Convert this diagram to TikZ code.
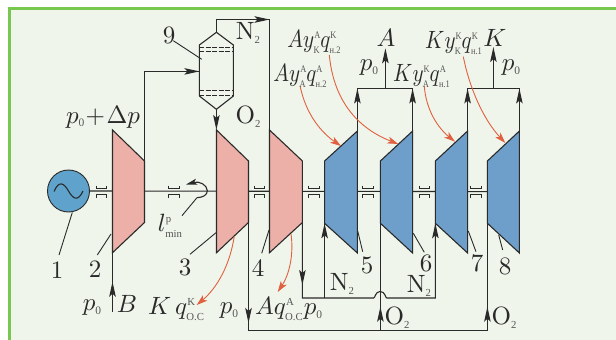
\documentclass[tikz,border=0pt]{standalone}
\usepackage{fontspec}
\usetikzlibrary{arrows.meta}
\newfontfamily\rusfont{Liberation Serif}
\definecolor{bgc}{HTML}{EFF5EA}
\definecolor{framec}{HTML}{78C850}
\definecolor{pinkc}{HTML}{EDB0A9}
\definecolor{bluec}{HTML}{6E9FCB}
\definecolor{genc}{HTML}{5FA3CC}
\definecolor{redc}{HTML}{E0603F}
\definecolor{inkc}{HTML}{2A2A2A}
\definecolor{subc}{HTML}{555555}
\scriptspace=0pt
\newcommand{\tn}[1]{\mbox{\fontsize{4}{5}\selectfont\rusfont\color{subc}#1}}
\newcommand{\tb}[1]{\mbox{\fontsize{4.3}{5}\selectfont\rusfont\color{subc}#1}}
\newcommand{\pz}{p_{\mbox{\fontsize{4.6}{5}\selectfont\rusfont\color{subc}0}}}
\tikzset{
  pipe/.style={draw=inkc,line width=1.1pt},
  leader/.style={draw=inkc,line width=0.9pt},
  tipped/.style={pipe,-{Stealth[length=15pt,width=6.5pt,inset=3pt]}},
  redarrow/.style={draw=redc,line width=0.9pt,-{Stealth[length=11pt,width=7pt,inset=3pt,color=redc]}},
  lab/.style={inner sep=0pt,outer sep=0pt,scale=2.5,text=inkc},
  labn/.style={inner sep=0pt,outer sep=0pt,xscale=2.1,yscale=2.5,text=inkc},
  machine/.style={line width=1.1pt,draw=inkc}
}
% name, left x, right x, fill, y: left top, right top, right bottom, left bottom
\newcommand{\mach}[8]{%
  \coordinate (#1-lt) at (#2,#5);
  \coordinate (#1-rt) at (#3,#6);
  \coordinate (#1-rb) at (#3,#7);
  \coordinate (#1-lb) at (#2,#8);
  \fill[#4] (#1-lt)--(#1-rt)--(#1-rb)--(#1-lb)--cycle;
  \draw[machine] (#1-lt)--(#1-rt)--(#1-rb)--(#1-lb)--cycle;
}
\newcommand{\bearing}[1]{%
  \draw[draw=inkc,line width=0.7pt] (#1-5.3,185.5) -- (#1-5.3,188.8) -- (#1+5.3,188.8) -- (#1+5.3,185.5);
  \draw[draw=inkc,line width=0.7pt] (#1-5.3,198) -- (#1-5.3,194.8) -- (#1+5.3,194.8) -- (#1+5.3,198);
}
\begin{document}
\begin{tikzpicture}[x=1pt,y=-1pt]
\useasboundingbox (0,0) rectangle (616,340);
\fill[white] (0,0) rectangle (616,340);
\fill[bgc] (10,8) rectangle (616,340);
\fill[framec] (8,7) rectangle (616,9.5);
\fill[framec] (8,7) rectangle (11,340);

% shaft behind machines
\node[circle,minimum size=42pt,inner sep=0pt,outer sep=0pt,fill=genc,draw=inkc,line width=0.9pt] (gen) at (68.5,191) {};
\coordinate (shaftend) at (487,191.6);
\draw[pipe] (gen.east) -- (shaftend);

% machines
\mach{m2}{112.5}{144.5}{pinkc}{130}{161}{222.5}{252.7}
\mach{m3}{216.5}{248.5}{pinkc}{130}{161}{222.5}{252.7}
\mach{m4}{269.5}{302.4}{pinkc}{130}{161}{222.5}{252.7}
\mach{m5}{324.6}{357.4}{bluec}{161}{131}{253}{223.3}
\mach{m6}{380.4}{412.6}{bluec}{161}{131}{253}{223.3}
\mach{m7}{435.4}{467.6}{bluec}{161}{131}{253}{223.3}
\mach{m8}{487.4}{519.4}{bluec}{161}{131}{253}{223.3}

% bearings
\foreach \bx in {101.5,173.7,259.5,313.8,368,424.5,476}{\bearing{\bx}}

% generator wave
\draw[pipe] (54,191.5) .. controls (59,180) and (64,183) .. (68.5,191) .. controls (73,199) and (78,202) .. (83,191);

% column 9
\coordinate (c-top) at (216.4,32.3);
\coordinate (c-bot) at (216.4,109.3);
\coordinate (c-l1) at (199.4,45);
\coordinate (c-r1) at (233.4,45);
\coordinate (c-l2) at (199.4,96);
\coordinate (c-r2) at (233.4,96);
\coordinate (c-in) at (199.4,71.4);
\draw[pipe] (c-top) -- (c-r1) -- (c-r2) -- (c-bot) -- (c-l2) -- (c-l1) -- cycle;
\foreach \dy in {47,51.5,90.7,95}{
  \draw[draw=inkc,line width=1pt,dash pattern=on 5pt off 1.5pt] (199,\dy) -- (233.3,\dy);
}

% air to column
\coordinate (c2a) at (144.5,71.4);
\draw[pipe] (m2-rt) -- (c2a) -- (c-in);
\draw[tipped] (183,71.4) -- (c-in);
% column to turbine 3
\draw[tipped] (c-bot) -- (216.4,130);
% N2 top to turbine 4
\coordinate (n-a) at (216.4,19.5);
\coordinate (n-b) at (269.5,19.5);
\draw[pipe] (c-top) -- (n-a) -- (n-b) -- (m4-lt);
\draw[tipped] (253,19.5) -- (n-b);
% inlet B
\coordinate (b-in) at (112.5,311.5);
\coordinate (b-tip) at (112.5,281.7);
\draw[pipe] (b-in) -- (m2-lb);
\draw[tipped] (112.5,298) -- (b-tip);

% exhaust 3 to O2 bus
\coordinate (o-l) at (248.5,330.5);
\coordinate (o-m) at (380.4,330.5);
\coordinate (o-r) at (487.4,330.5);
\draw[pipe] (m3-rb) -- (o-l) -- (o-r) -- (m8-lb);
\draw[pipe] (o-m) -- (m6-lb);
\draw[tipped] (248.5,307) -- (248.5,323);
\draw[tipped] (380.4,323) -- (380.4,306.7);
\draw[tipped] (487.4,323) -- (487.4,306.7);

% exhaust 4 to N2 bus
\coordinate (n-l) at (302.4,298);
\coordinate (n-5) at (324.6,298);
\coordinate (h-a) at (373.5,298);
\coordinate (h-b) at (387,298);
\coordinate (n-7) at (435.4,298);
\draw[pipe] (m4-rb) -- (n-l) -- (h-a) .. controls (375.5,298) and (375,291.5) .. (380.2,291.5) .. controls (385.4,291.5) and (385,298) .. (h-b) -- (n-7) -- (m7-lb);
\draw[pipe] (n-5) -- (m5-lb);
\draw[tipped] (302.4,269) -- (302.4,285);
\draw[tipped] (324.6,239) -- (m5-lb);
\draw[tipped] (435.4,239) -- (m7-lb);

% outlets
\coordinate (a-l) at (357.4,88.5);
\coordinate (a-r) at (412.6,88.5);
\coordinate (a-m) at (385.4,88.5);
\coordinate (a-top) at (385.4,48.3);
\draw[pipe] (m5-rt) -- (a-l) -- (a-r) -- (m6-rt);
\draw[tipped] (357.4,104.5) -- (a-l);
\draw[tipped] (412.6,104.5) -- (a-r);
\draw[tipped] (a-m) -- (a-top);
\coordinate (k-l) at (467.6,88.5);
\coordinate (k-r) at (519.4,88.5);
\coordinate (k-m) at (493.4,88.5);
\coordinate (k-top) at (493.4,47);
\draw[pipe] (m7-rt) -- (k-l) -- (k-r) -- (m8-rt);
\draw[tipped] (467.6,104.5) -- (k-l);
\draw[tipped] (519.4,104.5) -- (k-r);
\draw[tipped] (k-m) -- (k-top);

% recirculation symbol
\draw[pipe,-{Stealth[length=11pt,width=6pt,inset=2.5pt]}] (196.7,197.7) .. controls (203,197.5) and (207.5,195) .. (207.3,190.5) .. controls (207,184.5) and (199,181) .. (186,184.5);

% leaders
\draw[leader] (72.3,212.5) -- (59,255);
\draw[leader] (111,234) -- (97.3,255);
\draw[leader] (216,232.7) -- (190,254.3);
\draw[leader] (269,230) -- (261.7,253.3);
\draw[leader] (357.7,231) -- (362.7,251.7);
\draw[leader] (413.3,233.3) -- (424.3,252.3);
\draw[leader] (468.3,231) -- (476,251.7);
\draw[leader] (498.7,235) -- (502.7,250);
\draw[leader] (173.3,40.7) -- (201.7,59.3);
\draw[leader] (196.7,198) -- (182,215.7);

% red arrows
\draw[redarrow] (234.3,236) .. controls (230,265) and (217,288) .. (196.7,305);
\draw[redarrow] (291,234) .. controls (294,255) and (289,275) .. (277.7,292);
\draw[redarrow] (300,85.7) .. controls (306,115) and (322,133) .. (341,146);
\draw[redarrow] (329.3,55) .. controls (334,105) and (362,130) .. (398.3,144);
\draw[redarrow] (424.3,86) .. controls (426,110) and (438,128) .. (455,141.7);
\draw[redarrow] (463.3,56.7) .. controls (470,90) and (484,120) .. (505.3,143);

% numbers
\node[lab] (n1) at (57,270) {1};
\node[lab] (n2) at (95,269) {2};
\node[lab] (n3) at (185,267) {3};
\node[lab] (n4) at (258,268) {4};
\node[lab] (n5) at (367,265) {5};
\node[lab] (n6) at (426,263) {6};
\node[lab] (n7) at (477,263) {7};
\node[lab] (n8) at (505,266) {8};
\node[lab] (n9) at (169,35) {9};

% labels
\node[lab] (l1) at (103,117) {$\pz\!+\!\Delta p$};
\node[lab] (l2) at (248,33) {N$_{\tb{2}}$};
\node[lab] (l3) at (248,117) {O$_{\tb{2}}$};
\node[labn] (l4) at (314,42) {$Ay^{\tn{A}}_{\tn{K}}q^{\tn{K}}_{\tn{н.2}}$};
\node[labn] (l5) at (300,76) {$Ay^{\tn{A}}_{\tn{A}}q^{\tn{A}}_{\tn{н.2}}$};
\node[lab] (l6) at (386,38) {$A$};
\node[lab] (l7) at (369,68) {$\pz$};
\node[labn] (l8) at (421.5,76) {$Ky^{\tn{K}}_{\tn{A}}q^{\tn{A}}_{\tn{н.1}}$};
\node[labn] (l9) at (453.5,43) {$Ky^{\tn{K}}_{\tn{K}}q^{\tn{K}}_{\tn{н.1}}$};
\node[lab] (l10) at (495,38) {$K$};
\node[lab] (l11) at (511,68) {$\pz$};
\node[lab] (l12) at (170,226) {$l^{\tb{p}}_{\tb{min}}$};
\node[lab] (l13) at (92,308) {$\pz$};
\node[lab] (l14) at (127,304) {$B$};
\node[lab] (l15) at (176,309) {$K\,q^{\tb{K}}_{\tb{O.C}}$};
\node[lab] (l16) at (229,311) {$\pz$};
\node[lab] (l17) at (279,309) {$A q^{\tb{A}}_{\tb{O.C}}$};
\node[lab] (l18) at (313,312) {$\pz$};
\node[lab] (l19) at (342,284) {N$_{\tb{2}}$};
\node[lab] (l20) at (419,286) {N$_{\tb{2}}$};
\node[lab] (l21) at (397,318) {O$_{\tb{2}}$};
\node[lab] (l22) at (504,318) {O$_{\tb{2}}$};
\end{tikzpicture}
\end{document}
